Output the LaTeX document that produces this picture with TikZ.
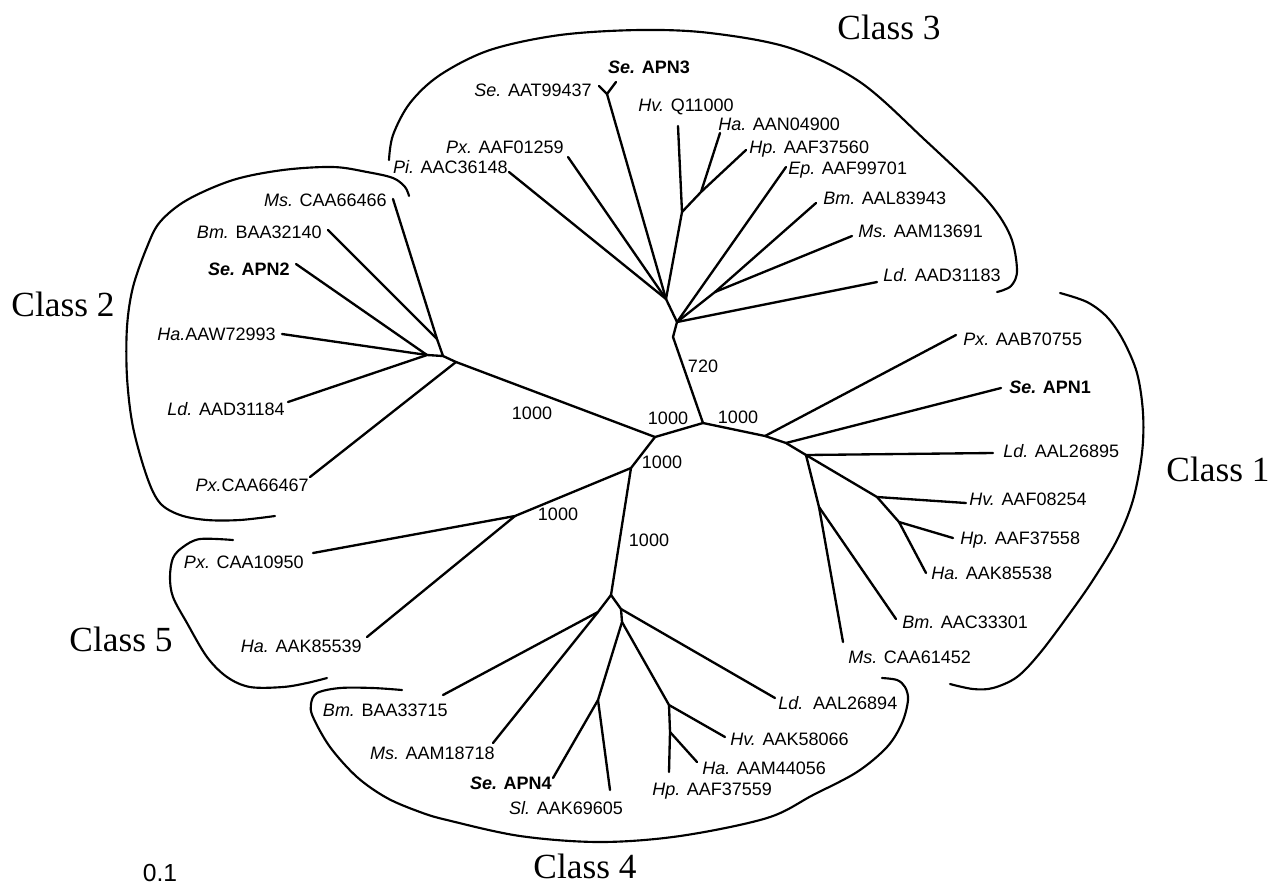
\documentclass[tikz,border=0pt]{standalone}
\usepackage{fontspec}
\setmainfont{Liberation Sans}
\newfontfamily\serifcls{Liberation Serif}
\begin{document}
\begin{tikzpicture}[x=0.75pt,y=-0.75pt]
\tikzset{
  br/.style={line width=1.75pt, line cap=round, line join=round},
  bk/.style={line width=1.6pt, line cap=round},
  lab/.style={inner sep=0pt, text depth=0pt, font=\fontsize{13.5}{16}\selectfont},
  boot/.style={inner sep=0pt, font=\fontsize{13.5}{16}\selectfont},
  cls/.style={inner sep=0pt, font=\serifcls\fontsize{26.5}{30}\selectfont},
}
\useasboundingbox (0,0) rectangle (1273,890);
\fill[white] (0,0) rectangle (1273,890);

% ---------- internal nodes ----------
\coordinate (C)  at (703,423);
\coordinate (L)  at (655,437);
\coordinate (BL) at (631,468);
\coordinate (R1) at (765,436);
\coordinate (R2) at (786,443);
\coordinate (R3) at (806,455);
% class 3
\coordinate (N3)  at (673,337);
\coordinate (N3b) at (677,322);
\coordinate (N3a) at (666,299);
\coordinate (N3h) at (682,212);
\coordinate (N3k) at (701,192);
\coordinate (N3m) at (715,292);
\coordinate (tSeS) at (607,94);
% class 2
\coordinate (C2)  at (456,362);
\coordinate (C2a) at (443,356);
\coordinate (C2b) at (427,355);
\coordinate (J2)  at (437,339);
% class 5
\coordinate (C5) at (515,516);
% class 4
\coordinate (C4)  at (611,595);
\coordinate (C4L) at (598,612);
\coordinate (C4R) at (621,609);
\coordinate (C4R2) at (622,622);
\coordinate (C4S) at (598,700);
\coordinate (C4H) at (669,705);
\coordinate (C4H2) at (670,732);
% class 1
\coordinate (C1H)  at (877,497);
\coordinate (C1H2) at (899,522);
\coordinate (C1B)  at (819,507);

% ---------- tips ----------
\coordinate (tPi)  at (509,172);
\coordinate (tPx3) at (568,157);
\coordinate (tSeA) at (599,86);
\coordinate (tSeB) at (616,82);
\coordinate (tHv3) at (678,126);
\coordinate (tHa3) at (720,133);
\coordinate (tHp3) at (746,150);
\coordinate (tEp3) at (786,167);
\coordinate (tBm3) at (816,203);
\coordinate (tMs3) at (852,236);
\coordinate (tLd3) at (877,282);
\coordinate (tMs2) at (393,199);
\coordinate (tBm2) at (328,230);
\coordinate (tSe2) at (296,264);
\coordinate (tHa2) at (282,334);
\coordinate (tLd2) at (288,402);
\coordinate (tPx2) at (310,477);
\coordinate (tPx5) at (313,553);
\coordinate (tHa5) at (367,637);
\coordinate (tBm4) at (443,695);
\coordinate (tMs4) at (493,743);
\coordinate (tSe4) at (553,778);
\coordinate (tSl4) at (610,790);
\coordinate (tHp4) at (669,772);
\coordinate (tHa4) at (697,762);
\coordinate (tHv4) at (725,737);
\coordinate (tLd4) at (775,698);
\coordinate (tPx1) at (956,335);
\coordinate (tSe1) at (1001,388);
\coordinate (tLd1) at (993,453);
\coordinate (tHv1) at (966,503);
\coordinate (tHp1) at (953,538);
\coordinate (tHa1) at (926,573);
\coordinate (tBm1) at (896,619);
\coordinate (tMs1) at (843,642);

% ---------- branches ----------
\draw[br] (BL) -- (L) -- (C) -- (R1) -- (R2) -- (R3);
\draw[br] (C) -- (N3);
% class 3
\draw[br] (N3) -- (N3b) -- (N3a);
\draw[br] (N3a) -- (tPi);
\draw[br] (N3a) -- (tPx3);
\draw[br] (N3a) -- (tSeS);
\draw[br] (tSeA) -- (tSeS) -- (tSeB);
\draw[br] (N3a) -- (N3h) -- (tHv3);
\draw[br] (N3h) -- (N3k) -- (tHa3);
\draw[br] (N3k) -- (tHp3);
\draw[br] (N3b) -- (tEp3);
\draw[br] (N3b) -- (N3m) -- (tBm3);
\draw[br] (N3m) -- (tMs3);
\draw[br] (N3b) -- (tLd3);
% class 2
\draw[br] (L) -- (C2) -- (C2a) -- (C2b);
\draw[br] (C2a) -- (J2) -- (tMs2);
\draw[br] (J2) -- (tBm2);
\draw[br] (C2b) -- (tSe2);
\draw[br] (C2b) -- (tHa2);
\draw[br] (C2b) -- (tLd2);
\draw[br] (C2) -- (tPx2);
% class 5
\draw[br] (BL) -- (C5) -- (tPx5);
\draw[br] (C5) -- (tHa5);
% class 4
\draw[br] (BL) -- (C4);
\draw[br] (C4) -- (C4L) -- (tBm4);
\draw[br] (C4L) -- (tMs4);
\draw[br] (C4) -- (C4R) -- (C4R2) -- (C4S) -- (tSe4);
\draw[br] (C4S) -- (tSl4);
\draw[br] (C4R2) -- (C4H) -- (tHv4);
\draw[br] (C4H) -- (C4H2) -- (tHp4);
\draw[br] (C4H2) -- (tHa4);
\draw[br] (C4R) -- (tLd4);
% class 1
\draw[br] (R1) -- (tPx1);
\draw[br] (R2) -- (tSe1);
\draw[br] (R3) -- (tLd1);
\draw[br] (R3) -- (C1H) -- (tHv1);
\draw[br] (C1H) -- (C1H2) -- (tHp1);
\draw[br] (C1H2) -- (tHa1);
\draw[br] (R3) -- (C1B) -- (tBm1);
\draw[br] (C1B) -- (tMs1);

% ---------- bootstrap values ----------
\node[boot] (b720) at (703,366) {720};
\node[boot] (bCL)  at (668,418) {1000};
\node[boot] (bCR)  at (738,417) {1000};
\node[boot] (bBL)  at (662,462) {1000};
\node[boot] (bC4)  at (649,540) {1000};
\node[boot] (bC2)  at (532,413) {1000};
\node[boot] (bC5)  at (558,514) {1000};

% ---------- leaf labels ----------
% class 3
\node[lab] (lSe3) at (649,67) {\bfseries\textit{Se.} APN3};
\node[lab,anchor=east] (lSeAAT) at (592,90) {\textit{Se.} AAT99437};
\node[lab] (lHv3) at (686,105) {\textit{Hv.} Q11000};
\node[lab,anchor=west] (lHa3) at (718,124) {\textit{Ha.} AAN04900};
\node[lab,anchor=west] (lHp3) at (749,147) {\textit{Hp.} AAF37560};
\node[lab,anchor=west] (lEp3) at (788,168) {\textit{Ep.} AAF99701};
\node[lab,anchor=west] (lBm3) at (823,198) {\textit{Bm.} AAL83943};
\node[lab,anchor=west] (lMs3) at (858,231) {\textit{Ms.} AAM13691};
\node[lab,anchor=west] (lLd3) at (883,275) {\textit{Ld.} AAD31183};
\node[lab,anchor=east] (lPx3) at (564,147) {\textit{Px.} AAF01259};
\node[lab,anchor=east] (lPi3) at (508,167) {\textit{Pi.} AAC36148};
% class 2
\node[lab,anchor=east] (lMs2) at (387,200) {\textit{Ms.} CAA66466};
\node[lab,anchor=east] (lBm2) at (322,232) {\textit{Bm.} BAA32140};
\node[lab,anchor=east] (lSe2) at (290,269) {\bfseries\textit{Se.} APN2};
\node[lab,anchor=east] (lHa2) at (276,334) {\textit{Ha.}AAW72993};
\node[lab,anchor=east] (lLd2) at (285,409) {\textit{Ld.} AAD31184};
\node[lab,anchor=east] (lPx2) at (309,485) {\textit{Px.}CAA66467};
% class 5
\node[lab,anchor=east] (lPx5) at (304,562) {\textit{Px.} CAA10950};
\node[lab,anchor=east] (lHa5) at (362,646) {\textit{Ha.} AAK85539};
% class 4
\node[lab,anchor=east] (lBm4) at (448,710) {\textit{Bm.} BAA33715};
\node[lab,anchor=east] (lMs4) at (495,753) {\textit{Ms.} AAM18718};
\node[lab,anchor=east] (lSe4) at (552,783) {\bfseries\textit{Se.} APN4};
\node[lab] (lSl4) at (566,808) {\textit{Sl.} AAK69605};
\node[lab,anchor=west] (lHp4) at (652,789) {\textit{Hp.} AAF37559};
\node[lab,anchor=west] (lHa4) at (702,768) {\textit{Ha.} AAM44056};
\node[lab,anchor=west] (lHv4) at (730,739) {\textit{Hv.} AAK58066};
\node[lab,anchor=west] (lLd4) at (778,703) {\textit{Ld.}\hspace{0.55em}AAL26894};
% class 1
\node[lab,anchor=west] (lPx1) at (963,339) {\textit{Px.} AAB70755};
\node[lab,anchor=west] (lSe1) at (1009,387) {\bfseries\textit{Se.} APN1};
\node[lab,anchor=west] (lLd1) at (1003,451) {\textit{Ld.} AAL26895};
\node[lab,anchor=west] (lHv1) at (969,499) {\textit{Hv.} AAF08254};
\node[lab,anchor=west] (lHp1) at (960,538) {\textit{Hp.} AAF37558};
\node[lab,anchor=west] (lHa1) at (931,573) {\textit{Ha.} AAK85538};
\node[lab,anchor=west] (lBm1) at (902,622) {\textit{Bm.} AAC33301};
\node[lab,anchor=west] (lMs1) at (848,657) {\textit{Ms.} CAA61452};

% ---------- class brackets ----------
\draw[bk] plot[smooth, tension=0.55] coordinates {(389,160) (393,135) (410,103) (440,75) (490,50) (560,35) (640,30) (710,33) (790,48) (860,82) (925,140) (985,198) (1010,235) (1017,270) (1011,286) (997,292)};
\draw[bk] plot[smooth, tension=0.55] coordinates {(409,196) (405,187) (393,178) (367,172) (333,167) (283,170) (233,180) (187,200) (160,222) (147,247) (133,287) (127,327) (127,377) (133,427) (147,477) (160,503) (180,515) (207,520) (240,520) (275,516)};
\draw[bk] plot[smooth, tension=0.55] coordinates {(233,540) (200,539) (183,547) (173,558) (170,577) (173,597) (187,623) (207,657) (227,677) (250,687) (283,687) (307,683) (327,678)};
\draw[bk] plot[smooth, tension=0.55] coordinates {(402,690) (373,688) (340,688) (317,693) (311,704) (313,717) (330,747) (357,777) (387,798) (420,812) (447,820) (520,836) (600,842) (680,836) (767,818) (813,795) (857,772) (887,747) (902,723) (908,700) (905,687) (897,680) (882,678)};
\draw[bk] plot[smooth, tension=0.55] coordinates {(1060,293) (1087,302) (1107,317) (1123,340) (1137,373) (1143,413) (1142,453) (1133,500) (1117,540) (1093,580) (1070,613) (1040,653) (1017,677) (993,688) (973,689) (950,684)};

% ---------- class names and scale ----------
\node[cls] (k1) at (1218,469) {Class 1};
\node[cls] (k2) at (63,304) {Class 2};
\node[cls] (k3) at (889,27) {Class 3};
\node[cls] (k4) at (585,866) {Class 4};
\node[cls] (k5) at (121,639) {Class 5};
\node[inner sep=0pt, font=\fontsize{18.5}{21}\selectfont] (scale) at (160,873) {0.1};
\end{tikzpicture}
\end{document}
